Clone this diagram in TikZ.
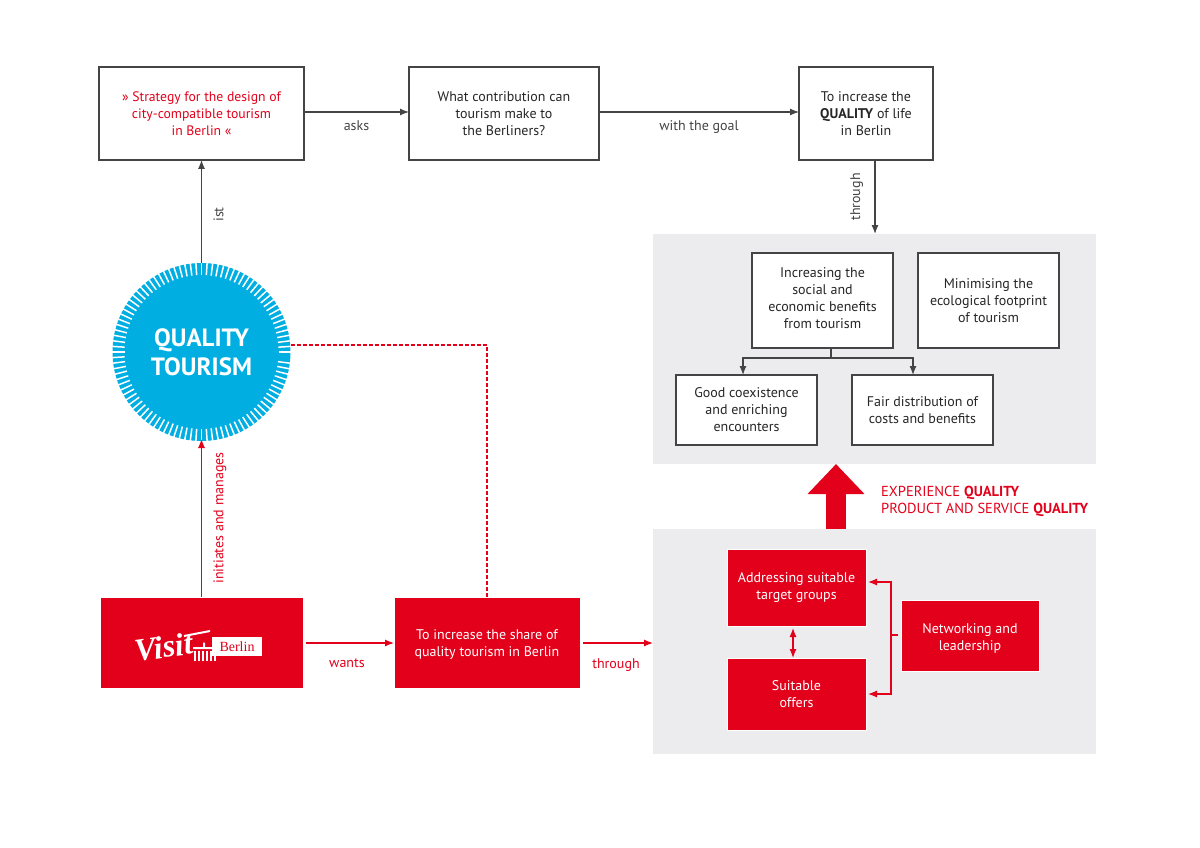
\documentclass[tikz,border=0pt]{standalone}
\usepackage{fontspec}
\setmainfont{PT Sans}
\newfontfamily\logofont{Liberation Serif}
\usetikzlibrary{positioning, arrows.meta}
\definecolor{visitred}{HTML}{E2001A}
\definecolor{tourblue}{HTML}{00AEE2}
\definecolor{panelgray}{HTML}{ECECEE}
\definecolor{linegray}{HTML}{444444}
\tikzset{
block/.style={
  rectangle,
  draw=linegray,
  line width=1.1pt,
  fill=white,
  text=black!85,
  align=center,
  outer sep=0pt,
  font=\fontsize{14}{17}\selectfont,
 },
redblock/.style={
  block,
  draw=white,
  line width=0.3pt,
  fill=visitred,
  text=white,
 },
panel/.style={fill=panelgray,minimum width=443pt,outer sep=0pt},
line/.style={draw=linegray, line width=1.2pt, -{Latex[length=9pt,width=7pt]}},
redline/.style={draw=visitred, line width=1.2pt, -{Latex[length=9pt,width=7pt]}},
lab/.style={text=linegray,font=\fontsize{14}{17}\selectfont},
redlab/.style={text=visitred,font=\fontsize{14}{17}\selectfont}
}
\begin{document}
\begin{tikzpicture}[x=1pt,y=-1pt]
 \useasboundingbox (0,0) rectangle (1200,848);

 \node[panel,minimum height=230pt,anchor=north west] (upper) at (653,234) {};
 \node[panel,minimum height=225pt,anchor=north west] (lower) at (653,529) {};

 \node[block,minimum width=205pt,minimum height=93pt,text=visitred,anchor=north west,
 font=\fontsize{13.7}{17}\selectfont] (strategy) at (99,67)
 {» Strategy for the design of\\city-compatible tourism\\in Berlin «};
 \node[block,minimum width=190pt,minimum height=93pt,right=105pt of strategy] (contribution)
 {What contribution can\\tourism make to\\the Berliners?};
 \node[block,minimum width=134pt,minimum height=93pt,right=200pt of contribution] (goal)
 {To increase the\\\textbf{QUALITY} of life\\in Berlin};

 \node[circle,fill=tourblue,minimum size=178pt,inner sep=0pt,outer sep=0pt,align=center,text=white,
 font=\fontsize{25}{29}\selectfont\bfseries] (tourism) at (201.5,352) {QUALITY\\TOURISM};
 \foreach \a in {0,3.6,...,356.4}
 {\draw[white,line width=1.5pt] ([shift={(\a:77pt)}]tourism.center) -- ([shift={(\a:90pt)}]tourism.center);}

 \node[redblock,minimum width=203pt,minimum height=91pt,anchor=north west] (visit) at (100,597) {};
 \node[rotate=8,inner sep=0pt,text=white,font=\fontsize{32}{32}\logofont\bfseries\itshape] (visitword) at (164,647) {Visit};
 \draw[white,line width=2pt] (184,636) -- (210,631);
 \node[fill=white,text=visitred,minimum width=50pt,minimum height=19pt,inner sep=0pt,
 font=\fontsize{14}{14}\logofont] (berlin) at (237,646.5) {Berlin};
 \fill[white] (193,647) rectangle (212,649) (203,642.5) rectangle (205,647);
 \foreach \X in {194,198,...,214}
 {\fill[white] (\X,651) rectangle ++(2,10);}

 \node[redblock,minimum width=186pt,minimum height=91pt,right=91pt of visit] (share)
 {\rule{0pt}{14pt}To increase the share of\\quality tourism in Berlin};

 \node[block,minimum width=141pt,minimum height=95pt,anchor=north west] (benefits) at (752,253)
 {Increasing the\\social and\\economic benefits\\from tourism\rule[-4pt]{0pt}{4pt}};
 \node[block,minimum width=141pt,minimum height=95pt,right=25pt of benefits] (footprint)
 {Minimising the\\ecological footprint\\of tourism};
 \node[block,minimum width=141pt,minimum height=70pt,anchor=north west] (coexist) at (676,375)
 {Good coexistence\\and enriching\\encounters};
 \node[block,minimum width=141pt,minimum height=70pt,right=35pt of coexist] (fair)
 {Fair distribution of\\costs and benefits};

 \node[redblock,minimum width=139pt,minimum height=77pt,anchor=north west] (groups) at (727,549)
 {Addressing suitable\\target groups};
 \node[redblock,minimum width=139pt,minimum height=72pt,below=32pt of groups] (offers)
 {Suitable\\offers};
 \node[redblock,minimum width=138pt,minimum height=71pt,anchor=north west] (network) at (901,600)
 {\rule{0pt}{16pt}Networking and\\leadership};

 \draw[line] (strategy.east |- 0,112) -- node[lab,below=5pt] {asks} (contribution.west |- 0,112);
 \draw[line] (contribution.east |- 0,112) -- node[lab,below=5pt] {with the goal} (goal.west |- 0,112);
 \draw[line] (goal.south -| 875,0) -- node[lab,rotate=90,anchor=south,yshift=8pt] {through} (upper.north -| 875,0);
 \draw[line] (tourism.north) -- node[lab,rotate=90,anchor=north,yshift=-8pt,xshift=-3pt] {ist} (strategy.south);

 \draw[redline] (visit.north) -- node[redlab,rotate=90,anchor=north,yshift=-8pt] {initiates and manages} ([yshift=2pt]tourism.south);
 \draw[draw=visitred,line width=1.2pt,dash pattern=on 4pt off 2pt] (tourism.east |- 0,345) -| (share.north);
 \draw[redline] (306,643) -- node[redlab,below=12pt,xshift=-3pt] {wants} (share.west |- 0,643);
 \draw[redline] (share.east |- 0,643) ++(3,0) -- node[redlab,below=12pt,xshift=-2pt] {through} (lower.west |- 0,643);

 \coordinate (split) at (831,358);
 \draw[linegray,line width=1.2pt] (benefits.south -| split) -- (split);
 \draw[line] (split) -| (coexist.north -| 743,0);
 \draw[line] (split) -| (fair.north -| 913,0);

 \draw[draw=visitred,line width=1.2pt,{Latex[length=9pt,width=7pt]}-{Latex[length=9pt,width=7pt]}] (groups.south -| 793,0) ++(0,2) -- (offers.north -| 793,0);
 \coordinate (bracket) at (891,635);
 \draw[visitred,line width=1.2pt] (898,635) -- (bracket);
 \draw[redline] (bracket) |- (868,582);
 \draw[redline] (bracket) |- (868,694);

 \draw[visitred,line width=20pt,-{Triangle[length=30pt,width=55pt]}] (lower.north -| 836,0) -- (upper.south -| 836,0);
 \node[anchor=north west,align=left,inner sep=0pt,text=visitred,font=\fontsize{14.5}{17}\selectfont] (experience) at (881,486)
 {EXPERIENCE \textbf{QUALITY}\\PRODUCT AND SERVICE \textbf{QUALITY}};
\end{tikzpicture}
\end{document}
